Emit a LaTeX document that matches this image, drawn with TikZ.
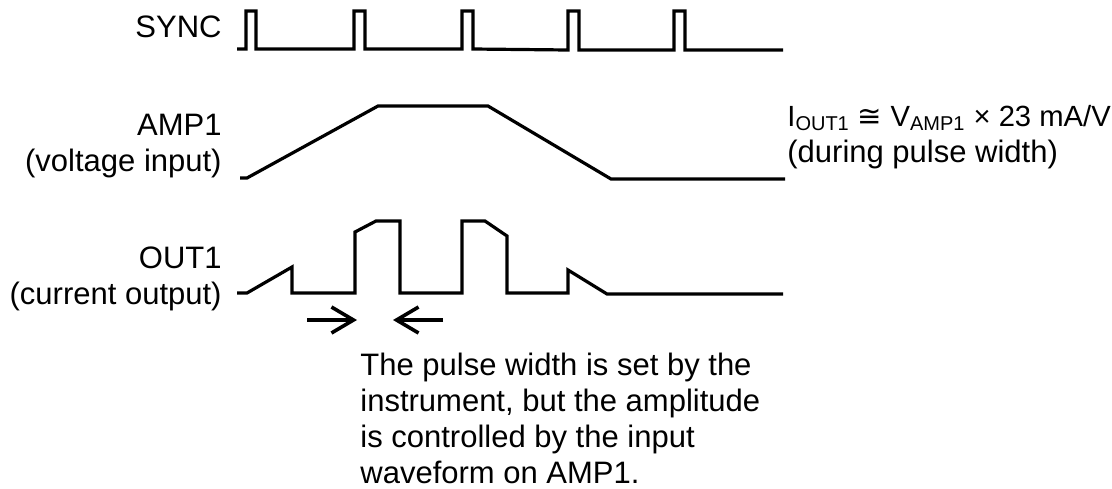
\documentclass[tikz,border=0pt]{standalone}
\usepackage{fontspec}
\setmainfont{Liberation Sans}
\newfontfamily\symfont{DejaVu Sans}
\usetikzlibrary{arrows.meta}
\newcommand\sublbl[1]{\textsubscript{\fontsize{10}{12}\selectfont #1}}
\begin{document}
\begin{tikzpicture}[x=0.5pt,y=-0.5pt,
		wave/.style={line width=1.6pt},
		lbl/.style={inner sep=0pt,font=\fontsize{15.5}{18}\selectfont},
		marker/.style={line width=1.8pt,-{Straight Barb[length=11pt,width=13pt]}}]
		\useasboundingbox (0,0) rectangle (1112,488);
		\draw [wave] (237,49)--(246,49)--(246,11)--(256,11)--(256,49)
			--(354,49)--(354,11)--(365,11)--(365,49)
			--(462,49)--(462,11)--(473,11)--(473,49)
			--(568,50)--(568,11)--(579,11)--(579,50)
			--(674,50)--(674,11)--(685,11)--(685,50)--(783,50);
		\draw [wave] (240,178)--(247,178)--(378,106)--(488,106)--(611,179)--(785,179);
		\draw [wave] (237,293)--(247,293)--(292,267)--(292,293)--(355,293)--(355,232)--(376,221)--(400,221)--(400,293)
			--(462,293)--(462,221)--(485,221)--(507,236)--(507,293)--(568,293)--(568,270)--(607,294)--(783,294);
		\coordinate (pwa) at (307,320);
		\coordinate (pwb) at (357,320);
		\coordinate (pwc) at (443,320);
		\coordinate (pwd) at (393,320);
		\draw [marker] (pwa)--(pwb);
		\draw [marker] (pwc)--(pwd);
		\node [lbl,anchor=base east] (synclbl) at (222,37) {SYNC};
		\node [lbl,anchor=base east,align=right] (amplbl) at (222,171) {AMP1\\(voltage input)};
		\node [lbl,anchor=base east,align=right] (outlbl) at (222,304) {OUT1\\(current output)};
		\node [lbl,anchor=base west,align=left] (gain) at (787,162) {{\fontsize{14.6}{18}\selectfont I\sublbl{OUT1} {\symfont ≅} V\sublbl{AMP1} × 23 mA/V}\\(during pulse width)};
		\node [lbl,anchor=base west,align=left] (note) at (360,483) {The pulse width is set by the\\instrument, but the amplitude\\is controlled by the input\\waveform on AMP1.};
\end{tikzpicture}
\end{document}
